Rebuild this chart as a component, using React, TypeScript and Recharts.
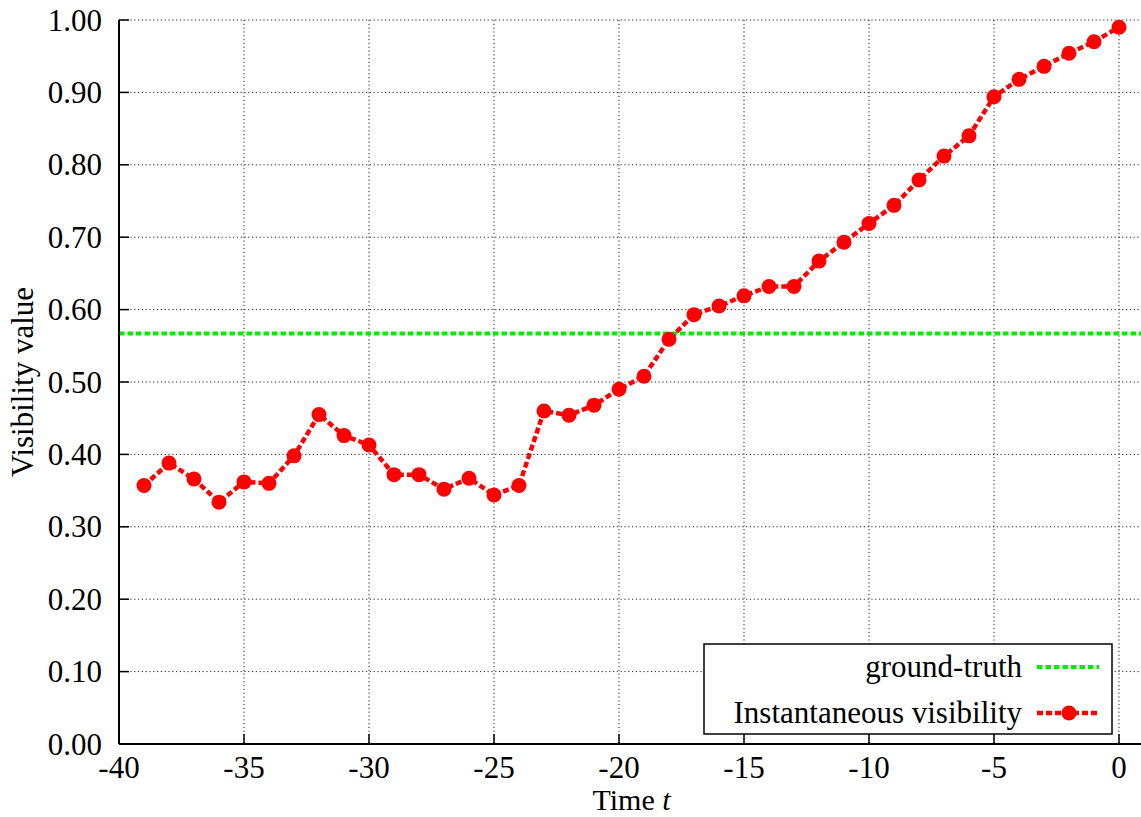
import { LineChart, Line, XAxis, YAxis, CartesianGrid, ReferenceLine } from "recharts";

const times = [
  -39, -38, -37, -36, -35, -34, -33, -32, -31, -30, -29, -28, -27, -26, -25, -24, -23, -22, -21, -20,
  -19, -18, -17, -16, -15, -14, -13, -12, -11, -10, -9, -8, -7, -6, -5, -4, -3, -2, -1, 0,
];
const visibility = [
  0.357, 0.388, 0.366, 0.334, 0.362, 0.36, 0.398, 0.455, 0.426, 0.413, 0.372, 0.372, 0.352, 0.367,
  0.344, 0.357, 0.46, 0.454, 0.468, 0.49, 0.508, 0.559, 0.593, 0.605, 0.619, 0.632, 0.632, 0.667,
  0.693, 0.719, 0.744, 0.779, 0.812, 0.84, 0.894, 0.918, 0.936, 0.954, 0.97, 0.99,
];
const groundTruth = 0.567;
const xTicks = [-40, -35, -30, -25, -20, -15, -10, -5, 0];
const yTicks = [0, 0.1, 0.2, 0.3, 0.4, 0.5, 0.6, 0.7, 0.8, 0.9, 1.0];

const FONT = "'Liberation Serif', 'Times New Roman', serif";
const FS = 31;
const RED = "#ff0000";
const GREEN = "#00ee00";

const data = times.map((t, i) => ({ t, v: visibility[i] }));

const textStyle = { fontFamily: FONT, fontSize: FS, fill: "#000" };

function BottomTick(p: any) {
  return (
    <g>
      <line x1={p.x} y1={p.y} x2={p.x} y2={p.y - 10} stroke="#000" strokeWidth={1.5} />
      <text x={p.x} y={p.y + 34} textAnchor="middle" style={textStyle}>
        {p.payload.value}
      </text>
    </g>
  );
}

function LeftTick(p: any) {
  return (
    <g>
      <line x1={p.x} y1={p.y} x2={p.x + 10} y2={p.y} stroke="#000" strokeWidth={1.5} />
      <text x={p.x - 17} y={p.y} dy="0.34em" textAnchor="end" style={textStyle}>
        {Number(p.payload.value).toFixed(2)}
      </text>
    </g>
  );
}

function TopTick(p: any) {
  return <line x1={p.x} y1={p.y} x2={p.x} y2={p.y + 10} stroke="#000" strokeWidth={1.5} />;
}

function RightTick(p: any) {
  return <line x1={p.x} y1={p.y} x2={p.x - 10} y2={p.y} stroke="#000" strokeWidth={1.5} />;
}

function XTitle(p: any) {
  const vb = p.viewBox;
  return (
    <text x={vb.x + vb.width / 2} y={vb.y + 66} textAnchor="middle" style={{ ...textStyle, fontSize: 30 }}>
      Time <tspan fontStyle="italic">t</tspan>
    </text>
  );
}

function YTitle(p: any) {
  const vb = p.viewBox;
  const cx = vb.x + 33;
  const cy = vb.y + vb.height / 2;
  return (
    <text x={cx} y={cy} transform={`rotate(-90 ${cx} ${cy})`} textAnchor="middle" style={textStyle}>
      Visibility value
    </text>
  );
}

function LegendBox() {
  return (
    <svg width={410} height={92} style={{ position: "absolute", left: 703, top: 643 }}>
      <rect x={1} y={1} width={408} height={90} fill="#fff" stroke="#000" strokeWidth={1.5} />
      <text x={319} y={34} textAnchor="end" style={textStyle}>
        ground-truth
      </text>
      <line x1={334} y1={24} x2={396} y2={24} stroke={GREEN} strokeWidth={4} strokeDasharray="5.5 3" />
      <text x={319} y={80} textAnchor="end" style={textStyle}>
        Instantaneous visibility
      </text>
      <line x1={334} y1={70} x2={396} y2={70} stroke={RED} strokeWidth={4.5} strokeDasharray="6 3" />
      <circle cx={366} cy={70} r={7.5} fill={RED} />
    </svg>
  );
}

export default function App() {
  return (
    <div style={{ position: "absolute", left: 0, top: 0, width: 1141, height: 817, overflow: "hidden", background: "#fff" }}>
      <LineChart width={1160} height={817} data={data} margin={{ top: 20, right: 16, left: 0, bottom: 0 }}>
        <CartesianGrid stroke="#222" strokeWidth={1} strokeDasharray="1.2 2.6" />
        <XAxis
          dataKey="t"
          type="number"
          domain={[-40, 1]}
          ticks={xTicks}
          height={73}
          axisLine={{ stroke: "#000", strokeWidth: 2 }}
          tickLine={false}
          tickSize={0}
          tickMargin={0}
          tick={(p: any) => <BottomTick {...p} />}
          label={(p: any) => <XTitle {...p} />}
          interval={0}
        />
        <XAxis
          xAxisId="top"
          orientation="top"
          type="number"
          domain={[-40, 1]}
          ticks={xTicks}
          height={0}
          axisLine={{ stroke: "#000", strokeWidth: 2 }}
          tickLine={false}
          tickSize={0}
          tickMargin={0}
          tick={(p: any) => <TopTick {...p} />}
          interval={0}
        />
        <YAxis
          type="number"
          domain={[0, 1]}
          ticks={yTicks}
          width={119}
          axisLine={{ stroke: "#000", strokeWidth: 2 }}
          tickLine={false}
          tickSize={0}
          tickMargin={0}
          tick={(p: any) => <LeftTick {...p} />}
          label={(p: any) => <YTitle {...p} />}
          interval={0}
        />
        <YAxis
          yAxisId="right"
          orientation="right"
          type="number"
          domain={[0, 1]}
          ticks={yTicks}
          width={0}
          axisLine={{ stroke: "#000", strokeWidth: 2 }}
          tickLine={false}
          tickSize={0}
          tickMargin={0}
          tick={(p: any) => <RightTick {...p} />}
          interval={0}
        />
        <ReferenceLine y={groundTruth} stroke={GREEN} strokeWidth={4} strokeDasharray="5.5 3" />
        <Line
          dataKey="v"
          type="linear"
          stroke={RED}
          strokeWidth={4.5}
          strokeDasharray="6 3"
          dot={{ r: 7.5, fill: RED, stroke: "none" }}
          activeDot={false}
          isAnimationActive={false}
        />
      </LineChart>
      <LegendBox />
    </div>
  );
}
